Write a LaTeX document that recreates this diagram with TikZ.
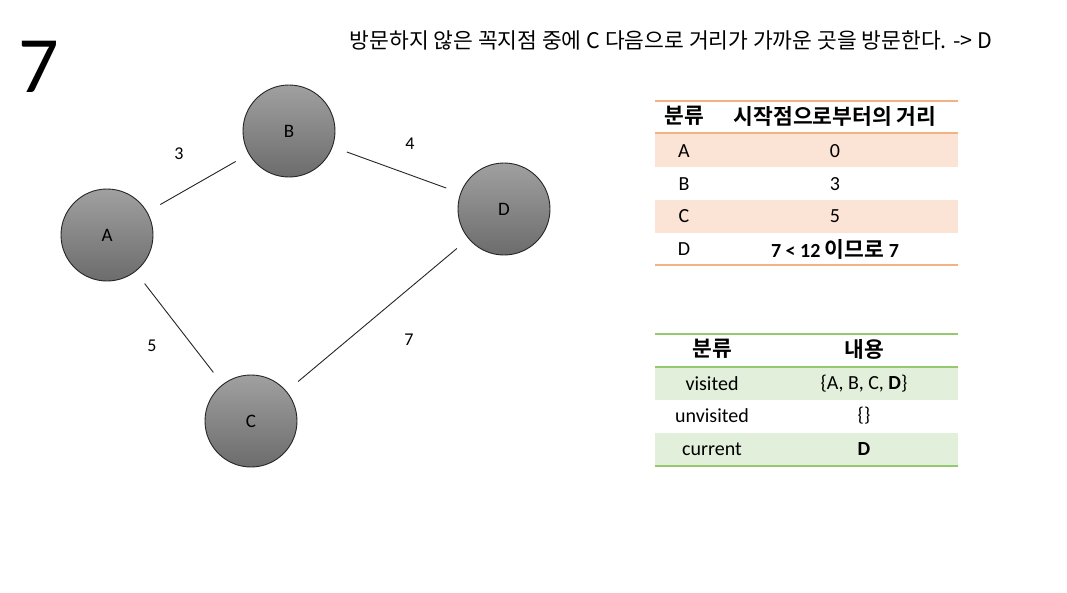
\documentclass[tikz,border=0pt]{standalone}
\usepackage{fontspec}
\setmainfont{Carlito}
\newfontfamily\kr{Noto Sans CJK KR}[BoldFont={Noto Sans CJK KR Bold}]
\usetikzlibrary{positioning}

\definecolor{nodetop}{RGB}{160,160,160}
\definecolor{nodebot}{RGB}{108,108,108}
\definecolor{orline}{RGB}{244,177,131}
\definecolor{orfill}{RGB}{251,228,213}
\definecolor{grline}{RGB}{150,200,110}
\definecolor{grfill}{RGB}{226,239,218}
\newcommand{\fs}[1]{\fontsize{#1}{#1}\selectfont}

\begin{document}
\begin{tikzpicture}[x=1pt,y=-1pt,
  vertex/.style={circle,draw=black!85,line width=0.9pt,top color=nodetop,bottom color=nodebot,minimum size=92pt,inner sep=0pt,font=\fs{19}},
  edge/.style={draw=black!85,line width=0.9pt,shorten <=15pt,shorten >=15pt},
  weight/.style={font=\fs{18}},
  cell/.style={font=\fs{20},inner sep=0pt},
  krcell/.style={font=\fs{21.5},inner sep=0pt}]

\useasboundingbox[fill=white] (0,0) rectangle (1067,592);

\node[font=\fs{80},inner sep=0pt] (step) at (39,67) {7};
\node[font=\fs{21.5}] (title) at (671,40) {\kr 방문하지 않은 꼭지점 중에 C 다음으로 거리가 가까운 곳을 방문한다. -> D};

% graph
\node[vertex] (A) at (107,235) {A};
\node[vertex] (B) at (289,131) {B};
\node[vertex] (C) at (251,421) {C};
\node[vertex] (D) at (504,209) {D};

\draw[edge] (A) -- (B);
\draw[edge] (B) -- (D);
\draw[edge] (A) -- (C);
\draw[edge] (C) -- (D);

\node[weight] (wAB) at (179,154) {3};
\node[weight] (wBD) at (410,144) {4};
\node[weight] (wAC) at (152,346) {5};
\node[weight] (wCD) at (409,340) {7};

% distance table
\fill[orfill] (655,134) rectangle (958,167);
\fill[orfill] (655,200) rectangle (958,233);
\draw[orline,line width=1.3pt] (655,101) -- (958,101);
\draw[orline,line width=2pt] (655,133) -- (958,133);
\draw[orline,line width=1.3pt] (655,265) -- (958,265);

\node[krcell] (dh1) at (684,116) {\kr\bfseries 분류};
\node[krcell] (dh2) at (835,116) {\kr\bfseries 시작점으로부터의 거리};
\foreach \k/\d [count=\i] in {A/0,B/3,C/5}
{
  \node[cell] (dk\k) at (684,{151+32.7*(\i-1)}) {\k};
  \node[cell] (dd\k) at (835,{151+32.7*(\i-1)}) {\d};
}
\node[cell] (dkD) at (684,249) {D};
\node[cell] (ddD) at (835,249) {\bfseries 7 < 12 {\kr\fs{21.5}이므로} 7};

% state table
\fill[grfill] (655,368) rectangle (958,400);
\fill[grfill] (655,433) rectangle (958,466);
\draw[grline,line width=1.3pt] (655,334) -- (958,334);
\draw[grline,line width=2pt] (655,367) -- (958,367);
\draw[grline,line width=2pt] (655,466) -- (958,466);

\node[krcell] (sh1) at (712,349) {\kr\bfseries 분류};
\node[krcell] (sh2) at (864,349) {\kr\bfseries 내용};
\node[cell] (sk1) at (712,384) {visited};
\node[cell] (sv1) at (864,384) {\{A, B, C, \textbf{D}\}};
\node[cell] (sk2) at (712,416) {unvisited};
\node[cell] (sv2) at (864,416) {\{\}};
\node[cell] (sk3) at (712,449) {current};
\node[cell] (sv3) at (864,449) {\textbf{D}};
\end{tikzpicture}
\end{document}
